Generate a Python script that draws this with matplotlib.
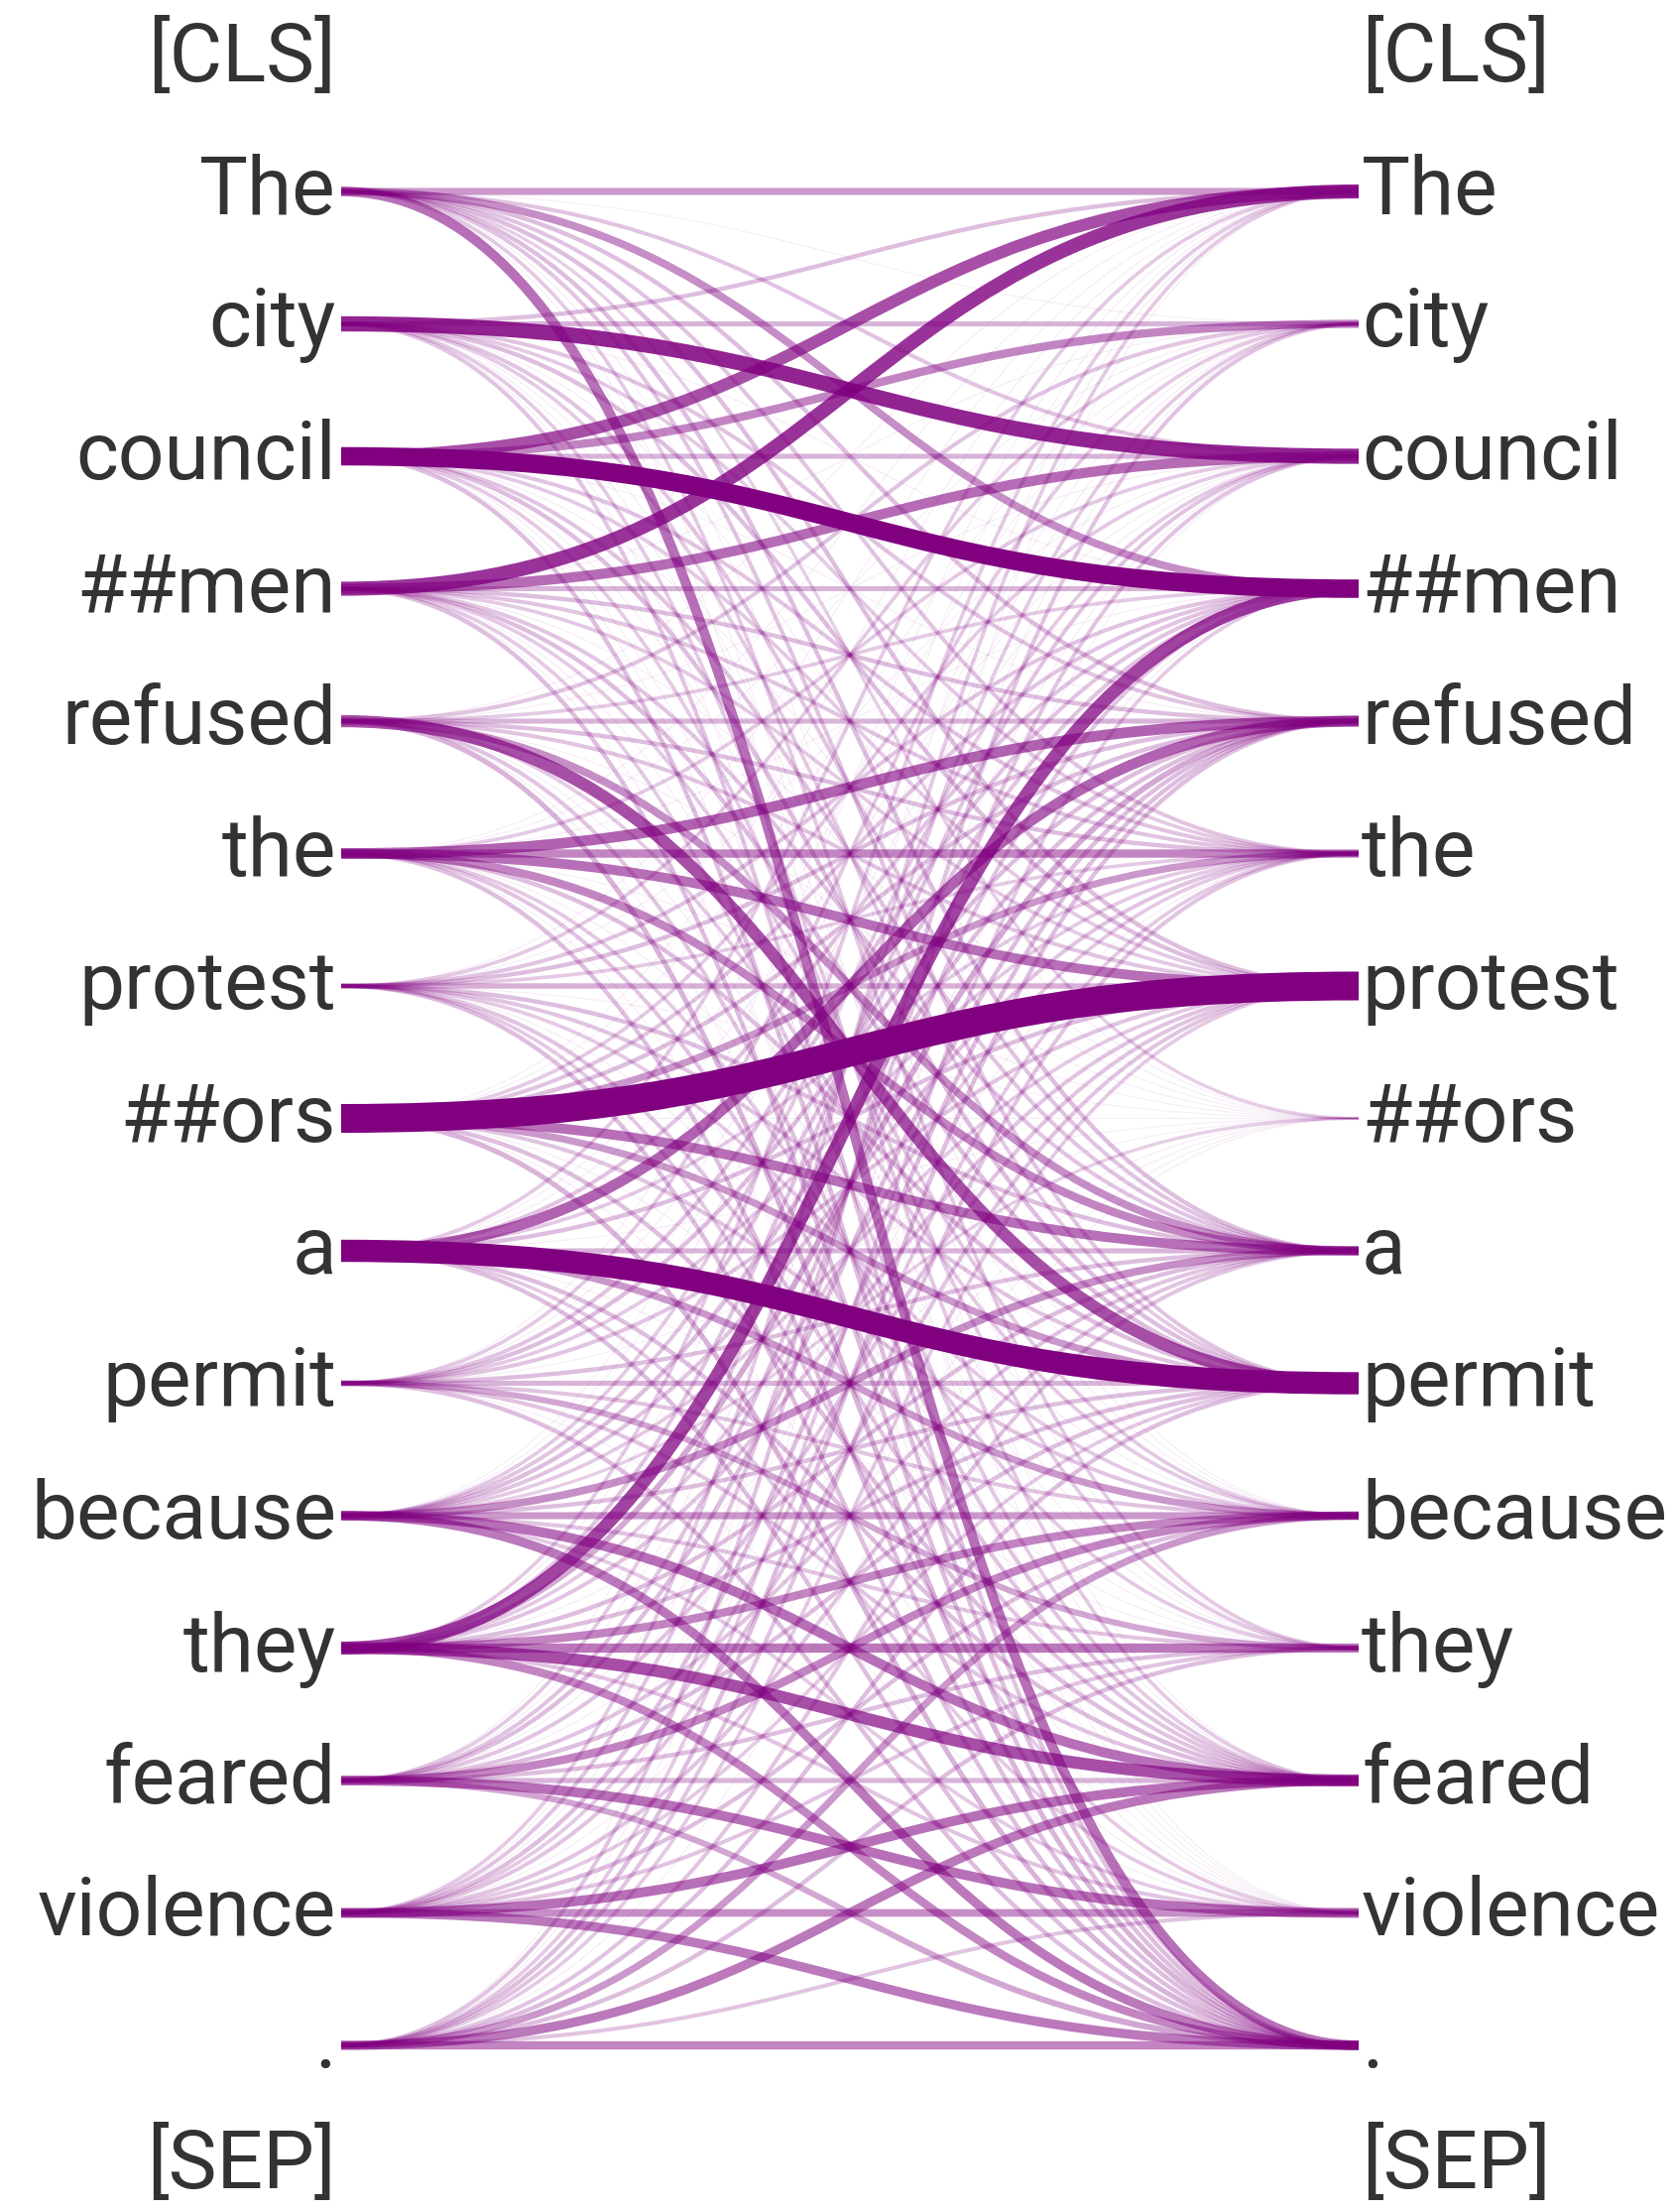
import matplotlib
matplotlib.use("Agg")
import matplotlib.pyplot as plt
from matplotlib.path import Path
from matplotlib.patches import PathPatch

# tokens shown on both sides
tokens = ["[CLS]", "The", "city", "council", "##men", "refused", "the", "protest",
          "##ors", "a", "permit", "because", "they", "feared", "violence", ".", "[SEP]"]

# attention: rows = left token, cols = right token
attn = [
    # The  city council ##men refused the protest ##ors  a  permit because they feared violence  .
    [0.18, 0.02, 0.09, 0.20, 0.10, 0.09, 0.10, 0.07, 0.10, 0.09, 0.02, 0.08, 0.02, 0.02, 0.27],  # The
    [0.10, 0.12, 0.46, 0.02, 0.09, 0.08, 0.10, 0.02, 0.09, 0.08, 0.02, 0.02, 0.08, 0.02, 0.09],  # city
    [0.35, 0.22, 0.12, 0.58, 0.02, 0.09, 0.08, 0.02, 0.09, 0.10, 0.02, 0.08, 0.02, 0.02, 0.10],  # council
    [0.42, 0.02, 0.28, 0.12, 0.10, 0.09, 0.08, 0.02, 0.09, 0.10, 0.08, 0.02, 0.08, 0.02, 0.10],  # ##men
    [0.02, 0.09, 0.02, 0.08, 0.12, 0.10, 0.09, 0.02, 0.20, 0.35, 0.08, 0.02, 0.09, 0.02, 0.12],  # refused
    [0.02, 0.02, 0.08, 0.02, 0.30, 0.22, 0.27, 0.02, 0.22, 0.10, 0.02, 0.08, 0.09, 0.02, 0.10],  # the
    [0.02, 0.08, 0.02, 0.09, 0.10, 0.08, 0.13, 0.02, 0.10, 0.09, 0.08, 0.02, 0.09, 0.08, 0.10],  # protest
    [0.02, 0.02, 0.08, 0.09, 0.10, 0.18, 1.00, 0.02, 0.27, 0.18, 0.09, 0.02, 0.10, 0.02, 0.12],  # ##ors
    [0.08, 0.02, 0.02, 0.09, 0.30, 0.08, 0.10, 0.02, 0.12, 0.73, 0.18, 0.02, 0.10, 0.08, 0.10],  # a
    [0.02, 0.08, 0.02, 0.09, 0.10, 0.08, 0.09, 0.02, 0.10, 0.12, 0.09, 0.15, 0.09, 0.02, 0.10],  # permit
    [0.02, 0.02, 0.08, 0.09, 0.10, 0.09, 0.08, 0.07, 0.20, 0.10, 0.18, 0.09, 0.27, 0.08, 0.25],  # because
    [0.08, 0.02, 0.09, 0.38, 0.14, 0.08, 0.09, 0.02, 0.10, 0.10, 0.22, 0.25, 0.35, 0.09, 0.22],  # they
    [0.02, 0.08, 0.02, 0.09, 0.10, 0.02, 0.09, 0.02, 0.09, 0.10, 0.22, 0.10, 0.12, 0.27, 0.15],  # feared
    [0.08, 0.02, 0.09, 0.02, 0.10, 0.08, 0.09, 0.02, 0.09, 0.08, 0.10, 0.09, 0.27, 0.20, 0.25],  # violence
    [0.02, 0.09, 0.02, 0.08, 0.10, 0.09, 0.08, 0.02, 0.09, 0.10, 0.18, 0.10, 0.25, 0.09, 0.22],  # .
]

W, H = 1691, 2230
fig = plt.figure(figsize=(W / 100, H / 100), dpi=100)
ax = fig.add_axes([0, 0, 1, 1])
ax.set_xlim(0, W)
ax.set_ylim(H, 0)
ax.axis("off")

x_left, x_right = 344, 1370
y_first, step = 193, 133.5
xm = (x_left + x_right) / 2

def row_y(i):
    # i is index in tokens (0 = [CLS])
    return y_first + step * (i - 1)

# weakest first so the thick lines sit on top
pairs = []
for i, row in enumerate(attn):
    for j, w in enumerate(row):
        pairs.append((w, i, j))
pairs.sort()

for w, i, j in pairs:
    y0 = row_y(i + 1)
    y1 = row_y(j + 1)
    verts = [(x_left, y0), (xm, y0), (xm, y1), (x_right, y1)]
    path = Path(verts, [Path.MOVETO, Path.CURVE4, Path.CURVE4, Path.CURVE4])
    width_px = 29 * w ** 0.82
    alpha = min(1.0, 1.6 * w ** 0.8)
    ax.add_patch(PathPatch(path, fill=False, edgecolor="#800080", alpha=alpha,
                           lw=width_px * 0.72, capstyle="butt"))

for i, tok in enumerate(tokens):
    y = min(row_y(i) + 23, 2206)
    ax.text(x_left - 5, y, tok, ha="right", va="baseline", fontsize=59,
            family="Roboto", color="#333333")
    ax.text(x_right + 3, y, tok, ha="left", va="baseline", fontsize=59,
            family="Roboto", color="#333333")

fig.savefig("out.png", dpi=100)
